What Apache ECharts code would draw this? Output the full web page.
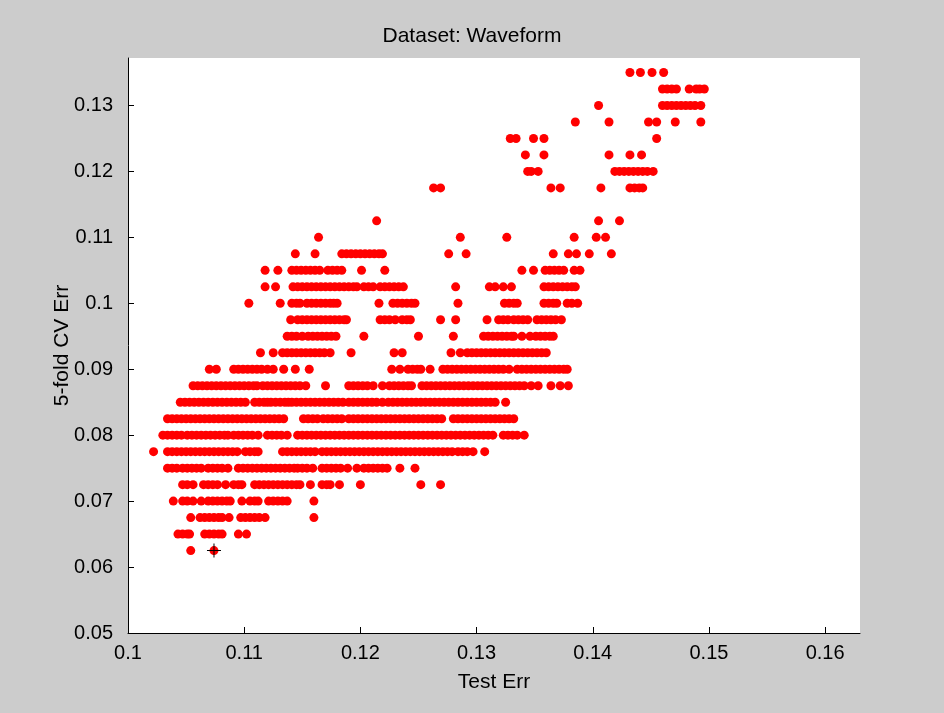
<!DOCTYPE html>
<html>
<head>
<meta charset="utf-8">
<script src="https://cdn.jsdelivr.net/npm/echarts@6/dist/echarts.min.js"></script>
<style>
html,body{margin:0;padding:0;background:#cccccc;}
#chart{width:944px;height:713px;}
</style>
</head>
<body>
<div id="chart"></div>
<script>
// y levels (5-fold CV Err) and the Test Err values of the points on each level
const x_1350 = [0.1432, 0.1441, 0.1451, 0.1461];
const x_1325 = [0.1460, 0.1464, 0.1468, 0.1472, 0.1483, 0.1489, 0.1492, 0.1496];
const x_1300 = [0.1405, 0.1460, 0.1464, 0.1468, 0.1472, 0.1476, 0.1480, 0.1484, 0.1488, 0.1493];
const x_1275 = [0.1385, 0.1414, 0.1448, 0.1455, 0.1471, 0.1493];
const x_1250 = [0.1329, 0.1334, 0.1349, 0.1358, 0.1455];
const x_1225 = [0.1342, 0.1358, 0.1414, 0.1432, 0.1442];
const x_1200 = [0.1344, 0.1347, 0.1353, 0.1419, 0.1423, 0.1427, 0.1431, 0.1435, 0.1439, 0.1443, 0.1447, 0.1452];
const x_1175 = [0.1263, 0.1269, 0.1364, 0.1372, 0.1407, 0.1432, 0.1436, 0.1440, 0.1443];
const x_1125 = [0.1214, 0.1405, 0.1423];
const x_1100 = [0.1164, 0.1286, 0.1326, 0.1384, 0.1403, 0.1411];
const x_1075 = [0.1144, 0.1161, 0.1184, 0.1188, 0.1192, 0.1196, 0.1200, 0.1204, 0.1208, 0.1212, 0.1216, 0.1219,
  0.1276, 0.1291, 0.1366, 0.1379, 0.1386, 0.1397, 0.1416];
const x_1050 = [0.1118, 0.1129, 0.1141, 0.1145, 0.1149, 0.1153, 0.1157, 0.1161, 0.1165, 0.1172, 0.1176, 0.1180, 0.1184,
  0.1201, 0.1221, 0.1339, 0.1349, 0.1359, 0.1363, 0.1367, 0.1371, 0.1375, 0.1384, 0.1389];
const x_1025 = [0.1118, 0.1127, 0.1142, 0.1146, 0.1150, 0.1154, 0.1158, 0.1162, 0.1166, 0.1170, 0.1174, 0.1178, 0.1182,
  0.1186, 0.1190, 0.1194, 0.1197, 0.1203, 0.1207, 0.1211, 0.1217, 0.1221, 0.1225, 0.1229, 0.1233, 0.1237,
  0.1282, 0.1311, 0.1316, 0.1323, 0.1330, 0.1358, 0.1362, 0.1366, 0.1370, 0.1374, 0.1378, 0.1382, 0.1385];
const x_1000 = [0.1104, 0.1131, 0.1141, 0.1145, 0.1148, 0.1154, 0.1158, 0.1162, 0.1166, 0.1170, 0.1174, 0.1177, 0.1180,
  0.1216, 0.1228, 0.1232, 0.1236, 0.1240, 0.1244, 0.1247, 0.1284, 0.1324, 0.1328, 0.1332, 0.1335,
  0.1358, 0.1362, 0.1366, 0.1369, 0.1378, 0.1382, 0.1387];
const x_0975 = [0.1140, 0.1146, 0.1150, 0.1154, 0.1158, 0.1162, 0.1166, 0.1170, 0.1174, 0.1178, 0.1182, 0.1186, 0.1188,
  0.1217, 0.1221, 0.1225, 0.1230, 0.1236, 0.1240, 0.1243, 0.1269, 0.1282, 0.1309, 0.1319, 0.1323, 0.1327, 0.1332,
  0.1336, 0.1340, 0.1344, 0.1352, 0.1356, 0.1360, 0.1364, 0.1368, 0.1373];
const x_0950 = [0.1137, 0.1141, 0.1145, 0.1150, 0.1155, 0.1159, 0.1163, 0.1167, 0.1171, 0.1175, 0.1179, 0.1203, 0.1250,
  0.1280, 0.1306, 0.1310, 0.1314, 0.1318, 0.1322, 0.1326, 0.1330, 0.1332, 0.1339, 0.1346,
  0.1351, 0.1355, 0.1359, 0.1363, 0.1366];
const x_0925 = [0.1114, 0.1125, 0.1133, 0.1137, 0.1141, 0.1145, 0.1149, 0.1153, 0.1157, 0.1161, 0.1165, 0.1169, 0.1174,
  0.1192, 0.1229, 0.1236, 0.1278, 0.1286, 0.1292, 0.1296, 0.1300, 0.1304, 0.1308, 0.1312, 0.1316, 0.1320, 0.1324,
  0.1328, 0.1332, 0.1336, 0.1340, 0.1344, 0.1348, 0.1352, 0.1356, 0.1360];
const x_0900 = [0.1070, 0.1076, 0.1091, 0.1095, 0.1099, 0.1103, 0.1107, 0.1111, 0.1115, 0.1120, 0.1125, 0.1134, 0.1144,
  0.1156, 0.1227, 0.1234, 0.1241, 0.1245, 0.1249, 0.1252, 0.1260, 0.1271, 0.1275, 0.1279, 0.1283, 0.1287, 0.1291,
  0.1295, 0.1299, 0.1303, 0.1307, 0.1311, 0.1315, 0.1319, 0.1323, 0.1328, 0.1335, 0.1339, 0.1343, 0.1347, 0.1351,
  0.1355, 0.1359, 0.1363, 0.1367, 0.1371, 0.1375, 0.1378];
const x_0875 = [0.1056, 0.1060, 0.1064, 0.1068, 0.1072, 0.1076, 0.1080, 0.1084, 0.1088, 0.1092, 0.1096, 0.1100, 0.1104,
  0.1108, 0.1111, 0.1116, 0.1120, 0.1124, 0.1128, 0.1132, 0.1136, 0.1140, 0.1144, 0.1148, 0.1153, 0.1170,
  0.1190, 0.1194, 0.1198, 0.1202, 0.1206, 0.1211, 0.1219, 0.1225, 0.1229, 0.1233, 0.1237, 0.1241, 0.1244,
  0.1253, 0.1257, 0.1261, 0.1265, 0.1269, 0.1273, 0.1277, 0.1281, 0.1285, 0.1289, 0.1293, 0.1297, 0.1301, 0.1305,
  0.1309, 0.1313, 0.1317, 0.1321, 0.1325, 0.1329, 0.1333, 0.1337, 0.1341, 0.1347, 0.1353, 0.1364, 0.1372, 0.1379];
const x_0850 = [0.1045, 0.1049, 0.1053, 0.1057, 0.1061, 0.1065, 0.1069, 0.1073, 0.1077, 0.1081, 0.1085, 0.1089, 0.1093,
  0.1097, 0.1101, 0.1109, 0.1113, 0.1117, 0.1120, 0.1123, 0.1127, 0.1131, 0.1135, 0.1138, 0.1141, 0.1145, 0.1149,
  0.1153, 0.1157, 0.1161, 0.1165, 0.1169, 0.1173, 0.1177, 0.1181, 0.1185, 0.1190, 0.1194, 0.1198, 0.1202, 0.1206,
  0.1210, 0.1214, 0.1219, 0.1224, 0.1228, 0.1232, 0.1236, 0.1240, 0.1244, 0.1248, 0.1252, 0.1256, 0.1260, 0.1264,
  0.1268, 0.1272, 0.1276, 0.1280, 0.1284, 0.1288, 0.1292, 0.1296, 0.1300, 0.1304, 0.1308, 0.1312, 0.1316, 0.1325];
const x_0825 = [0.1034, 0.1038, 0.1042, 0.1046, 0.1050, 0.1054, 0.1058, 0.1062, 0.1066, 0.1070, 0.1074, 0.1078, 0.1082,
  0.1086, 0.1090, 0.1094, 0.1098, 0.1102, 0.1106, 0.1110, 0.1114, 0.1118, 0.1122, 0.1126, 0.1130, 0.1134,
  0.1151, 0.1155, 0.1159, 0.1163, 0.1168, 0.1172, 0.1176, 0.1180, 0.1184, 0.1190, 0.1194, 0.1198, 0.1202, 0.1206,
  0.1210, 0.1214, 0.1218, 0.1222, 0.1226, 0.1230, 0.1234, 0.1238, 0.1242, 0.1246, 0.1250, 0.1254, 0.1258, 0.1262,
  0.1266, 0.1270, 0.1280, 0.1284, 0.1288, 0.1292, 0.1296, 0.1300, 0.1304, 0.1308, 0.1312, 0.1316, 0.1320, 0.1324,
  0.1328, 0.1332];
const x_0800 = [0.1030, 0.1034, 0.1038, 0.1042, 0.1046, 0.1051, 0.1055, 0.1059, 0.1063, 0.1067, 0.1071, 0.1075, 0.1079,
  0.1083, 0.1086, 0.1091, 0.1095, 0.1099, 0.1103, 0.1107, 0.1112, 0.1120, 0.1124, 0.1128, 0.1132, 0.1137,
  0.1146, 0.1150, 0.1154, 0.1158, 0.1162, 0.1166, 0.1170, 0.1174, 0.1178, 0.1182, 0.1186, 0.1190, 0.1194, 0.1198,
  0.1202, 0.1206, 0.1210, 0.1214, 0.1218, 0.1222, 0.1226, 0.1230, 0.1234, 0.1238, 0.1242, 0.1246, 0.1250, 0.1254,
  0.1258, 0.1262, 0.1266, 0.1270, 0.1274, 0.1278, 0.1282, 0.1286, 0.1290, 0.1294, 0.1298, 0.1302, 0.1306, 0.1310,
  0.1314, 0.1323, 0.1327, 0.1331, 0.1335, 0.1341];
const x_0775 = [0.1022, 0.1034, 0.1038, 0.1042, 0.1046, 0.1050, 0.1054, 0.1058, 0.1062, 0.1066, 0.1070, 0.1074, 0.1078,
  0.1082, 0.1086, 0.1090, 0.1094, 0.1101, 0.1105, 0.1109, 0.1112, 0.1133, 0.1137, 0.1141, 0.1145, 0.1149, 0.1153,
  0.1157, 0.1161, 0.1167, 0.1171, 0.1175, 0.1179, 0.1183, 0.1187, 0.1191, 0.1195, 0.1199, 0.1203, 0.1207, 0.1211,
  0.1215, 0.1219, 0.1223, 0.1227, 0.1231, 0.1235, 0.1239, 0.1243, 0.1247, 0.1251, 0.1255, 0.1259, 0.1263, 0.1267,
  0.1271, 0.1275, 0.1279, 0.1284, 0.1288, 0.1292, 0.1297, 0.1307];
const x_0750 = [0.1034, 0.1038, 0.1042, 0.1047, 0.1051, 0.1055, 0.1059, 0.1063, 0.1069, 0.1073, 0.1077, 0.1081, 0.1086,
  0.1095, 0.1099, 0.1103, 0.1107, 0.1111, 0.1115, 0.1119, 0.1123, 0.1127, 0.1131, 0.1135, 0.1139, 0.1143, 0.1146,
  0.1150, 0.1154, 0.1159, 0.1167, 0.1171, 0.1175, 0.1179, 0.1183, 0.1189, 0.1197, 0.1203, 0.1207, 0.1211, 0.1215,
  0.1219, 0.1223, 0.1234, 0.1247];
const x_0725 = [0.1047, 0.1051, 0.1056, 0.1065, 0.1069, 0.1073, 0.1077, 0.1084, 0.1091, 0.1095, 0.1098, 0.1109, 0.1113,
  0.1117, 0.1121, 0.1125, 0.1129, 0.1133, 0.1137, 0.1141, 0.1145, 0.1148, 0.1157, 0.1167, 0.1171, 0.1174, 0.1182,
  0.1200, 0.1252, 0.1269];
const x_0700 = [0.1039, 0.1047, 0.1051, 0.1056, 0.1063, 0.1069, 0.1073, 0.1077, 0.1081, 0.1085, 0.1088, 0.1098, 0.1105,
  0.1109, 0.1112, 0.1121, 0.1125, 0.1129, 0.1133, 0.1137, 0.1160];
const x_0675 = [0.1054, 0.1062, 0.1066, 0.1070, 0.1074, 0.1078, 0.1081, 0.1087, 0.1097, 0.1101, 0.1105, 0.1109, 0.1113,
  0.1118, 0.1160];
const x_0650 = [0.1043, 0.1047, 0.1051, 0.1053, 0.1066, 0.1070, 0.1074, 0.1078, 0.1081, 0.1095, 0.1102];
const x_0625 = [0.1054, 0.1074];

const rowLevels = [0.135, 0.1325, 0.13, 0.1275, 0.125, 0.1225, 0.12, 0.1175, 0.1125, 0.11, 0.1075, 0.105, 0.1025,
  0.1, 0.0975, 0.095, 0.0925, 0.09, 0.0875, 0.085, 0.0825, 0.08, 0.0775, 0.075, 0.0725, 0.07, 0.0675, 0.065, 0.0625];
const rowXs = [x_1350, x_1325, x_1300, x_1275, x_1250, x_1225, x_1200, x_1175, x_1125, x_1100, x_1075, x_1050, x_1025,
  x_1000, x_0975, x_0950, x_0925, x_0900, x_0875, x_0850, x_0825, x_0800, x_0775, x_0750, x_0725, x_0700, x_0675,
  x_0650, x_0625];

// highlighted (selected) point
const markX = [0.1074];
const markY = [0.0625];

const xTicks = [0.1, 0.11, 0.12, 0.13, 0.14, 0.15, 0.16];
const yTicks = [0.05, 0.06, 0.07, 0.08, 0.09, 0.1, 0.11, 0.12, 0.13];

const points = [];
rowLevels.forEach((y, i) => rowXs[i].forEach(x => points.push([x, y])));
const marks = markX.map((x, i) => [x, markY[i]]);

const font = 'Liberation Sans, Arial, Helvetica, sans-serif';
const chart = echarts.init(document.getElementById('chart'), null, {renderer: 'canvas'});
chart.setOption({
  backgroundColor: '#cccccc',
  animation: false,
  title: {
    text: 'Dataset: Waveform',
    left: 'center',
    top: 21,
    textStyle: {fontFamily: font, fontSize: 21, fontWeight: 'normal', color: '#000'}
  },
  grid: {left: 128, right: 84, top: 58, bottom: 80, show: true, backgroundColor: '#ffffff', borderWidth: 0},
  xAxis: {
    type: 'value',
    min: xTicks[0],
    max: 0.163,
    interval: 0.01,
    name: 'Test Err',
    nameLocation: 'middle',
    nameGap: 39,
    nameMoveOverlap: false,
    nameTextStyle: {fontFamily: font, fontSize: 21, color: '#000'},
    axisLine: {show: true, onZero: false, lineStyle: {color: '#000', width: 1}},
    axisTick: {show: true, inside: true, length: 6, lineStyle: {color: '#000'}},
    axisLabel: {fontFamily: font, fontSize: 20, color: '#000', margin: 10, showMaxLabel: false,
      formatter: v => (xTicks.some(t => Math.abs(t - v) < 1e-9) ? String(+v.toFixed(2)) : '')},
    splitLine: {show: false}
  },
  yAxis: {
    type: 'value',
    min: yTicks[0],
    max: 0.1372,
    interval: 0.01,
    name: '5-fold CV Err',
    nameLocation: 'middle',
    nameGap: 55,
    nameMoveOverlap: false,
    nameTextStyle: {fontFamily: font, fontSize: 21, color: '#000'},
    axisLine: {show: true, onZero: false, lineStyle: {color: '#000', width: 1}},
    axisTick: {show: true, inside: true, length: 6, lineStyle: {color: '#000'}},
    axisLabel: {fontFamily: font, fontSize: 20, color: '#000', margin: 15, showMaxLabel: false,
      formatter: v => (yTicks.some(t => Math.abs(t - v) < 1e-9) ? String(+v.toFixed(2)) : '')},
    splitLine: {show: false}
  },
  series: [
    {
      type: 'scatter',
      data: points,
      symbol: 'circle',
      symbolSize: 9,
      itemStyle: {color: '#ff0000', opacity: 1},
      emphasis: {disabled: true}
    },
    {
      type: 'scatter',
      data: marks,
      symbol: 'path://M6.5,0H7.5V14H6.5Z M0,6.5H14V7.5H0Z',
      symbolSize: 14,
      itemStyle: {color: '#000000', opacity: 1},
      z: 5,
      emphasis: {disabled: true}
    }
  ]
});
</script>
</body>
</html>
